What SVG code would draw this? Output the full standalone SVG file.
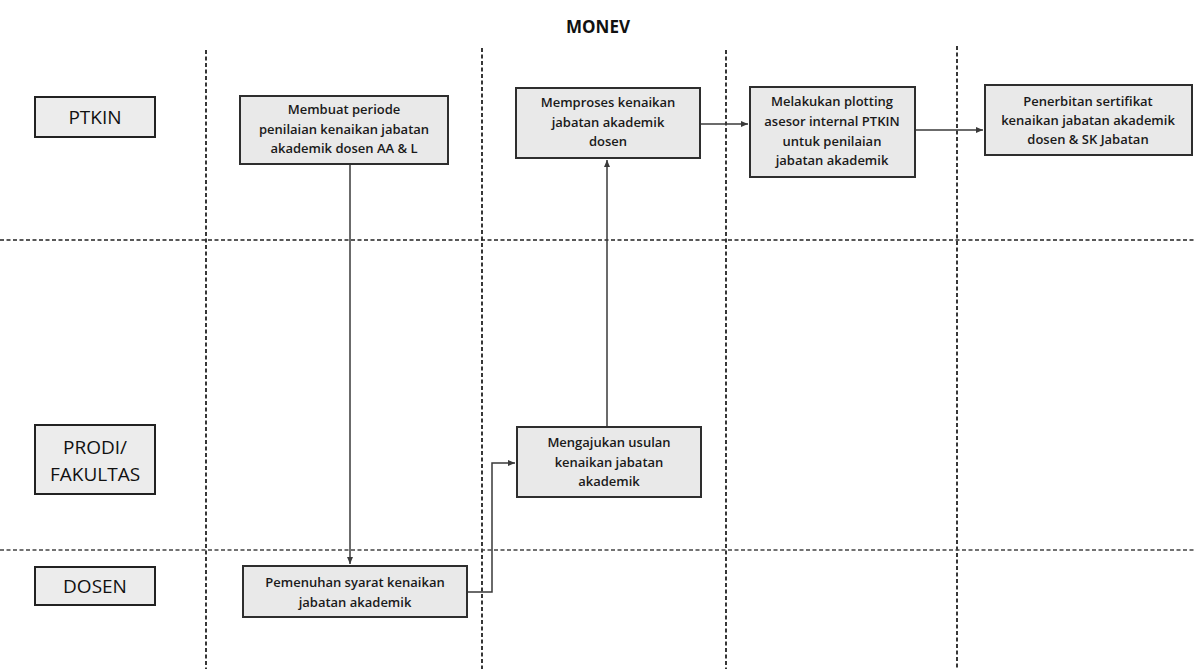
<svg xmlns="http://www.w3.org/2000/svg" width="1194" height="669" viewBox="0 0 1194 669">
<style>
.bg{fill:#ffffff}
.lane{stroke:#151515;stroke-width:1.7;stroke-dasharray:4,2.5;fill:none}
.laneh{stroke:#222;stroke-width:1.7;stroke-dasharray:4,2.5;fill:none}
.lbl rect{fill:#ececec;stroke:#222;stroke-width:2}
.lbl text{font-family:"Open Sans","Liberation Sans",sans-serif;font-size:19px;fill:#111;text-anchor:middle}
.node rect{fill:#e9e9e9;stroke:#2e2e2e;stroke-width:2}
.node text{font-family:"Open Sans","Liberation Sans",sans-serif;font-weight:600;font-size:13px;fill:#1a1a1a;text-anchor:middle}
.title{font-family:"Open Sans","Liberation Sans",sans-serif;font-weight:700;font-size:17px;fill:#111;text-anchor:middle}
.conn path{stroke:#3a3a3a;stroke-width:1.5;fill:none;marker-end:url(#arr)}
</style>
<defs>
<marker id="arr" markerWidth="8" markerHeight="8" refX="7" refY="4" orient="auto" markerUnits="userSpaceOnUse">
<path d="M0,1 L7,4 L0,7 Z" fill="#3a3a3a"/>
</marker>
</defs>
<rect class="bg" x="0" y="0" width="1194" height="669"/>
<text class="title" x="598" y="33">MONEV</text>
<g id="swimlanes">
<line class="lane" x1="206" y1="50" x2="206" y2="669"/>
<line class="lane" x1="482" y1="48" x2="482" y2="669"/>
<line class="lane" x1="726" y1="50" x2="726" y2="669"/>
<line class="lane" x1="957" y1="46" x2="957" y2="669"/>
<line class="laneh" x1="0" y1="240" x2="1194" y2="240"/>
<line class="laneh" x1="0" y1="550" x2="1194" y2="550" style="stroke:#444"/>
</g>
<g id="lane-ptkin" class="lbl"><rect x="35" y="97" width="120" height="40"/><text x="95" y="124">PTKIN</text></g>
<g id="lane-prodi" class="lbl"><rect x="35" y="425" width="120" height="69"/><text x="95" y="454">PRODI/</text><text x="95" y="481">FAKULTAS</text></g>
<g id="lane-dosen" class="lbl"><rect x="35" y="567" width="120" height="38"/><text x="95" y="593">DOSEN</text></g>
<g id="connectors" class="conn">
<path d="M350,164 V564"/>
<path d="M468,592 H492 V463 H515"/>
<path d="M607,427 V160"/>
<path d="M701,124 H748"/>
<path d="M916,130 H983"/>
</g>
<g id="n-membuat" class="node"><rect x="240" y="96" width="208" height="68"/>
<text x="344" y="114">Membuat periode</text><text x="344" y="134">penilaian kenaikan jabatan</text><text x="344" y="153">akademik dosen AA &amp; L</text></g>
<g id="n-memproses" class="node"><rect x="516" y="88" width="184" height="70"/>
<text x="608" y="107">Memproses kenaikan</text><text x="608" y="127">jabatan akademik</text><text x="608" y="146">dosen</text></g>
<g id="n-melakukan" class="node"><rect x="750" y="87" width="165" height="90"/>
<text x="832" y="106">Melakukan plotting</text><text x="832" y="126">asesor internal PTKIN</text><text x="832" y="146">untuk penilaian</text><text x="832" y="165">jabatan akademik</text></g>
<g id="n-penerbitan" class="node"><rect x="985" y="85" width="207" height="70"/>
<text x="1088" y="106">Penerbitan sertifikat</text><text x="1088" y="125">kenaikan jabatan akademik</text><text x="1088" y="144">dosen &amp; SK Jabatan</text></g>
<g id="n-mengajukan" class="node"><rect x="517" y="427" width="184" height="70"/>
<text x="609" y="447">Mengajukan usulan</text><text x="609" y="467">kenaikan jabatan</text><text x="609" y="486">akademik</text></g>
<g id="n-pemenuhan" class="node"><rect x="243" y="566" width="224" height="51"/>
<text x="355" y="587">Pemenuhan syarat kenaikan</text><text x="355" y="607">jabatan akademik</text></g>
</svg>
